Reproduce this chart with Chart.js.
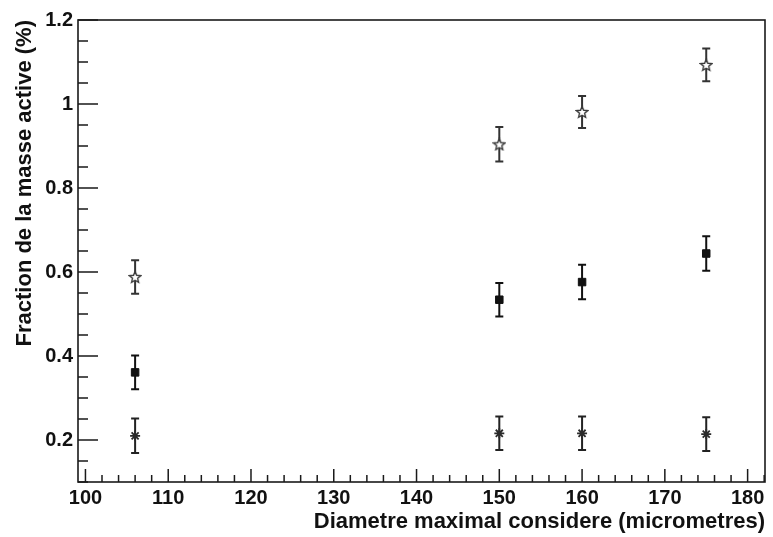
<!DOCTYPE html>
<html>
<head>
<meta charset="utf-8">
<script src="https://cdn.jsdelivr.net/npm/chart.js@4.4.1/dist/chart.umd.min.js"></script>
<style>
  html, body { margin: 0; padding: 0; background: #ffffff; }
  #wrap { width: 773px; height: 537px; }
</style>
</head>
<body>
<div id="wrap"><canvas id="c" width="773" height="537"></canvas></div>
<script>
// Maximal diameter considered (micrometres)
const diameters = [106, 150, 160, 175];

// Active mass fraction (%) for the three selections, with their uncertainties
const starValues   = [0.588, 0.904, 0.981, 1.093];
const starErrors   = [0.040, 0.041, 0.038, 0.039];
const squareValues = [0.361, 0.534, 0.576, 0.644];
const squareErrors = [0.040, 0.040, 0.041, 0.041];
const crossValues  = [0.210, 0.216, 0.216, 0.214];
const crossErrors  = [0.041, 0.040, 0.040, 0.040];

// Axis ranges and labelled ticks
const xRange = [99.1, 182.1];
const yRange = [0.1, 1.2];
const xTickValues = [100, 110, 120, 130, 140, 150, 160, 170, 180];
const xTickLabels = ['100', '110', '120', '130', '140', '150', '160', '170', '180'];
const yTickValues = [0.2, 0.4, 0.6, 0.8, 1.0, 1.2];
const yTickLabels = ['0.2', '0.4', '0.6', '0.8', '1', '1.2'];
const xMinorStep = 2;
const yMinorStep = 0.05;

const FONT = '"Liberation Sans", Arial, Helvetica, sans-serif';

// Open five-pointed star marker
function makeStarMarker(size, color) {
  const cv = document.createElement('canvas');
  cv.width = size; cv.height = size;
  const g = cv.getContext('2d');
  const c = size / 2, ro = size / 2 - 1, ri = ro * 0.45;
  g.beginPath();
  for (let i = 0; i < 10; i++) {
    const r = i % 2 === 0 ? ro : ri;
    const a = -Math.PI / 2 + i * Math.PI / 5;
    const px = c + r * Math.cos(a), py = c + r * Math.sin(a) + 0.5;
    if (i === 0) g.moveTo(px, py); else g.lineTo(px, py);
  }
  g.closePath();
  g.fillStyle = '#ffffff';
  g.fill();
  g.lineWidth = 1.4;
  g.strokeStyle = color;
  g.stroke();
  return cv;
}

function pts(vals, errs) {
  return diameters.map((x, i) => ({ x: x, y: vals[i], err: errs[i] }));
}

// Vertical error bars with caps, drawn beneath the markers
const errorBars = {
  id: 'errorBars',
  beforeDatasetsDraw(chart) {
    const ctx = chart.ctx;
    const xs = chart.scales.x, ys = chart.scales.y;
    ctx.save();
    chart.data.datasets.forEach(ds => {
      ctx.strokeStyle = ds.errColor;
      ctx.lineWidth = 2;
      ds.data.forEach(p => {
        const px = xs.getPixelForValue(p.x);
        const top = ys.getPixelForValue(p.y + p.err);
        const bot = ys.getPixelForValue(p.y - p.err);
        ctx.beginPath();
        ctx.moveTo(px, top); ctx.lineTo(px, bot);
        ctx.moveTo(px - 4, top); ctx.lineTo(px + 4, top);
        ctx.moveTo(px - 4, bot); ctx.lineTo(px + 4, bot);
        ctx.stroke();
      });
    });
    ctx.restore();
  }
};

// Frame and inward tick marks
const frameTicks = {
  id: 'frameTicks',
  afterDraw(chart) {
    const ctx = chart.ctx;
    const a = chart.chartArea;
    const xs = chart.scales.x, ys = chart.scales.y;
    ctx.save();
    ctx.strokeStyle = '#1a1a1a';
    ctx.lineWidth = 1.6;
    ctx.strokeRect(a.left, a.top, a.right - a.left, a.bottom - a.top);
    ctx.lineWidth = 1.5;
    ctx.beginPath();
    // x axis ticks
    for (let v = Math.ceil(xRange[0] / xMinorStep) * xMinorStep; v <= xRange[1]; v += xMinorStep) {
      const px = xs.getPixelForValue(v);
      const major = xTickValues.includes(v);
      ctx.moveTo(px, a.bottom);
      ctx.lineTo(px, a.bottom - (major ? 13 : 7));
    }
    // y axis ticks
    const nMinor = Math.round((yRange[1] - yRange[0]) / yMinorStep);
    for (let k = 0; k <= nMinor; k++) {
      const v = +(yRange[0] + k * yMinorStep).toFixed(2);
      const py = ys.getPixelForValue(v);
      const major = yTickValues.some(t => Math.abs(t - v) < 1e-6);
      ctx.moveTo(a.left, py);
      ctx.lineTo(a.left + (major ? 20 : 10), py);
    }
    ctx.stroke();
    ctx.restore();
  }
};

new Chart(document.getElementById('c'), {
  type: 'scatter',
  data: {
    datasets: [
      {
        label: 'etoiles',
        data: pts(starValues, starErrors),
        pointStyle: makeStarMarker(14, '#3a3a3a'),
        errColor: '#333333',
        pointRadius: 7
      },
      {
        label: 'carres',
        data: pts(squareValues, squareErrors),
        pointStyle: 'rect',
        pointRadius: 5.3,
        backgroundColor: '#111111',
        borderColor: '#111111',
        borderWidth: 1,
        errColor: '#111111'
      },
      {
        label: 'croix',
        data: pts(crossValues, crossErrors),
        pointStyle: 'star',
        pointRadius: 5,
        backgroundColor: '#2a2a2a',
        borderColor: '#2a2a2a',
        borderWidth: 1.8,
        errColor: '#222222'
      }
    ]
  },
  options: {
    responsive: false,
    animation: false,
    events: [],
    layout: { padding: { left: 0, right: 3, top: 20, bottom: 0 } },
    plugins: { legend: { display: false }, tooltip: { enabled: false } },
    scales: {
      x: {
        type: 'linear',
        min: xRange[0],
        max: xRange[1],
        grid: { display: false, drawTicks: false },
        border: { display: false },
        afterBuildTicks(scale) { scale.ticks = xTickValues.map(v => ({ value: v })); },
        afterFit(scale) { scale.height = 55; },
        ticks: {
          autoSkip: false,
          maxRotation: 0,
          padding: 4,
          color: '#111111',
          font: { family: FONT, size: 20, weight: 'bold' },
          callback: (v, i) => xTickLabels[i]
        },
        title: {
          display: true,
          align: 'end',
          text: 'Diametre maximal considere (micrometres)',
          color: '#111111',
          font: { family: FONT, size: 22, weight: 'bold' },
          padding: { top: 0, bottom: 2 }
        }
      },
      y: {
        type: 'linear',
        min: yRange[0],
        max: yRange[1],
        grid: { display: false, drawTicks: false },
        border: { display: false },
        afterBuildTicks(scale) { scale.ticks = yTickValues.map(v => ({ value: v })); },
        afterFit(scale) { scale.width = 78; },
        ticks: {
          autoSkip: false,
          padding: 5,
          color: '#111111',
          font: { family: FONT, size: 20, weight: 'bold' },
          callback: (v, i) => yTickLabels[i]
        },
        title: {
          display: true,
          align: 'end',
          text: 'Fraction de la masse active (%)',
          color: '#111111',
          font: { family: FONT, size: 22, weight: 'bold' },
          padding: { top: 12, bottom: 0 }
        }
      }
    }
  },
  plugins: [errorBars, frameTicks]
});
</script>
</body>
</html>
